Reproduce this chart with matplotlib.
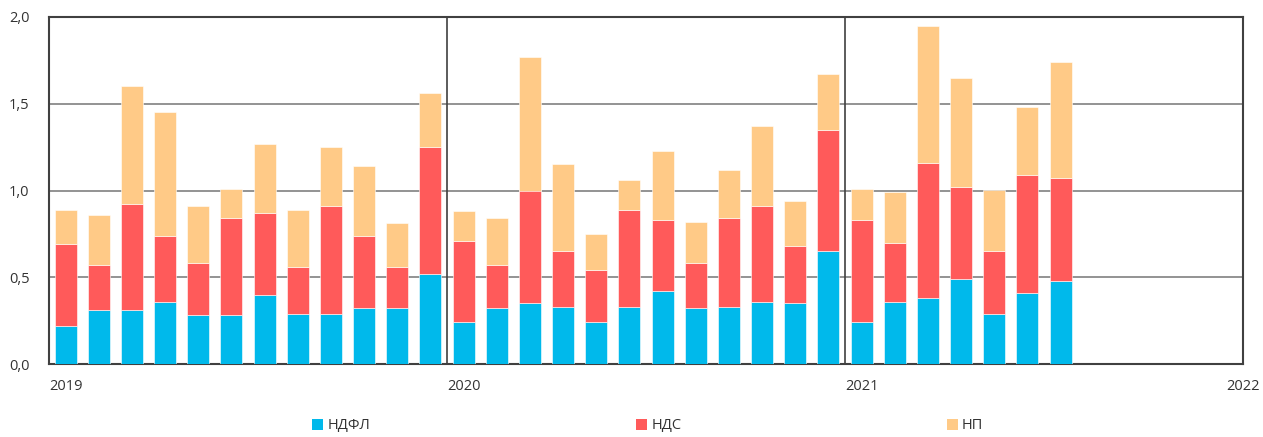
import numpy as np
import matplotlib.pyplot as plt
from matplotlib.patches import Patch
from matplotlib.ticker import FuncFormatter

plt.rcParams['font.family'] = ['Open Sans', 'DejaVu Sans']

# monthly values, Jan 2019 .. Jul 2021
ndfl = [0.22, 0.31, 0.31, 0.36, 0.28, 0.28, 0.40, 0.29, 0.29, 0.32, 0.32, 0.52,
        0.24, 0.32, 0.35, 0.33, 0.24, 0.33, 0.42, 0.32, 0.33, 0.36, 0.35, 0.65,
        0.24, 0.36, 0.38, 0.49, 0.29, 0.41, 0.48]
nds = [0.47, 0.26, 0.61, 0.38, 0.30, 0.56, 0.47, 0.27, 0.62, 0.42, 0.24, 0.73,
       0.47, 0.25, 0.65, 0.32, 0.30, 0.56, 0.41, 0.26, 0.51, 0.55, 0.33, 0.70,
       0.59, 0.34, 0.78, 0.53, 0.36, 0.68, 0.59]
np_tax = [0.20, 0.29, 0.68, 0.71, 0.33, 0.17, 0.40, 0.33, 0.34, 0.40, 0.25, 0.31,
          0.17, 0.27, 0.77, 0.50, 0.21, 0.17, 0.40, 0.24, 0.28, 0.46, 0.26, 0.32,
          0.18, 0.29, 0.79, 0.63, 0.35, 0.39, 0.67]
years = ['2019', '2020', '2021', '2022']
series_names = ['НДФЛ', 'НДС', 'НП']

colors = ['#00B9EB', '#FF5A5A', '#FFCA87']
grid_color = '#808080'
dark = '#404040'

fig = plt.figure(figsize=(12.63, 4.37), dpi=100)
ax = fig.add_axes([49 / 1263, 1 - 364 / 437, 1194 / 1263, 347 / 437])

x = np.arange(len(ndfl)) + 0.5
ndfl = np.array(ndfl)
nds = np.array(nds)
np_tax = np.array(np_tax)

ax.bar(x, ndfl, width=0.66, color=colors[0], edgecolor='white', linewidth=0.4, zorder=3)
ax.bar(x, nds, width=0.66, bottom=ndfl, color=colors[1], edgecolor='white', linewidth=0.4, zorder=3)
ax.bar(x, np_tax, width=0.66, bottom=ndfl + nds, color=colors[2], edgecolor='white', linewidth=0.4, zorder=3)

ax.set_xlim(0, 36)
ax.set_ylim(0, 2.0)
ax.set_yticks([0, 0.5, 1.0, 1.5, 2.0])
ax.yaxis.set_major_formatter(FuncFormatter(lambda v, p: f'{v:.1f}'.replace('.', ',')))
ax.tick_params(axis='y', length=0, pad=14, labelsize=10.5, labelcolor='#333333')
ax.set_xticks([])

for yv in [0.5, 1.0, 1.5]:
    ax.axhline(yv, color=grid_color, linewidth=1.2, zorder=1)
for xv in [12, 24]:
    ax.axvline(xv, color=dark, linewidth=1.2, zorder=1)

for s in ax.spines.values():
    s.set_color(dark)
    s.set_linewidth(1.5)

# year labels under the axis
for i, yr in enumerate(years):
    ha = 'center' if i == len(years) - 1 else 'left'
    ax.text(i * 12, -0.085, yr, ha=ha, va='top', fontsize=10.5, color='#333333',
            transform=ax.transData, clip_on=False)

handles = [Patch(facecolor=c, label=n) for c, n in zip(colors, series_names)]
fig.legend(handles=handles, loc='lower center', bbox_to_anchor=(0.513, -0.022), ncol=3,
           frameon=False, fontsize=10.5, handlelength=0.75, handleheight=0.75,
           handletextpad=0.3, columnspacing=18.2, labelcolor='#333333')

fig.savefig('out.png', dpi=100)
